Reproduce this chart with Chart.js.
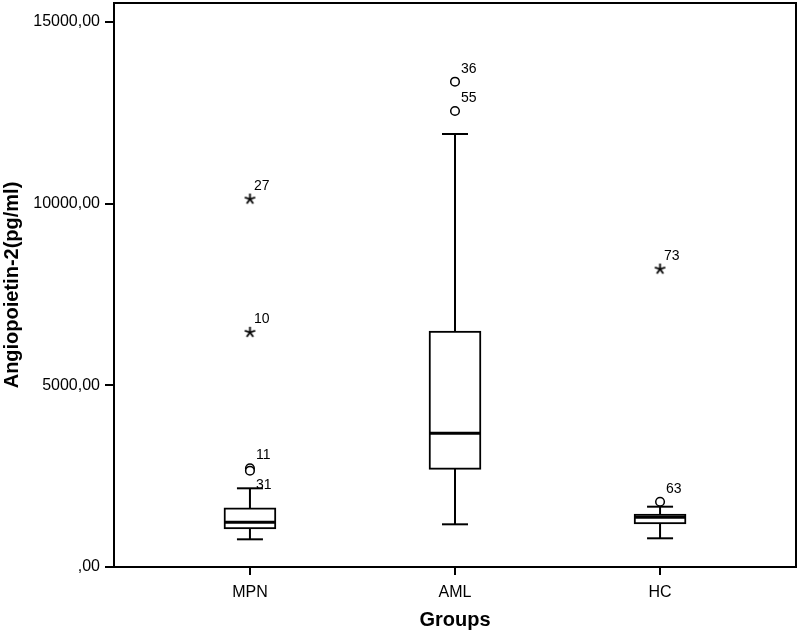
<!DOCTYPE html>
<html>
<head>
<meta charset="utf-8">
<script src="https://cdn.jsdelivr.net/npm/chart.js@4.4.1/dist/chart.umd.min.js"></script>
<style>
  html, body { margin: 0; padding: 0; background: #ffffff; }
  #c { display: block; }
</style>
</head>
<body>
<canvas id="c" width="799" height="632"></canvas>
<script>
// ---- data ----
const groups = ['MPN', 'AML', 'HC'];
const whiskerLow  = [762, 1175, 790];
const q1          = [1046, 2689, 1184];
const median      = [1230, 3680, 1371];
const q3          = [1632, 6496, 1459];
const whiskerHigh = [2166, 11918, 1660];
// mild outliers (circles): group index, value, case id
const circleGroup = [0, 0, 1, 1, 2];
const circleValue = [2717, 2651, 13358, 12551, 1797];
const circleId    = ['11', '31', '36', '55', '63'];
// extreme outliers (stars)
const starGroup = [0, 0, 2];
const starValue = [10129, 6460, 8202];
const starId    = ['27', '10', '73'];
// y-axis ticks
const yTicks = [0, 5000, 10000, 15000];

// label placement style (ids whose label sits below the point)
const labelBelow = ['31'];

const FONT = "'Liberation Sans', Arial, Helvetica, sans-serif";

// asterisk point style
function makeStar() {
  const c = document.createElement('canvas');
  c.width = 13; c.height = 13;
  const g = c.getContext('2d');
  g.strokeStyle = '#000';
  g.lineWidth = 1.8;
  g.lineCap = 'butt';
  const cx = 6.5, cy = 6.5, r = 5.5;
  for (let k = 0; k < 5; k++) {
    const a = -Math.PI / 2 + k * 2 * Math.PI / 5;
    g.beginPath();
    g.moveTo(cx, cy);
    g.lineTo(cx + r * Math.cos(a), cy + r * Math.sin(a));
    g.stroke();
  }
  return c;
}
const starImg = makeStar();

const whiskerData = [];
groups.forEach((g, i) => {
  whiskerData.push({x: i, y: whiskerLow[i]});
  whiskerData.push({x: i, y: whiskerHigh[i]});
  whiskerData.push({x: i, y: null});
});
const capData = [];
groups.forEach((g, i) => {
  capData.push({x: i, y: whiskerLow[i]});
  capData.push({x: i, y: whiskerHigh[i]});
});
const boxData = groups.map((g, i) => ({x: i, y: [q1[i], q3[i]]}));
const medianData = groups.map((g, i) => ({x: i, y: median[i]}));
const circleData = circleValue.map((v, k) => ({x: circleGroup[k], y: v}));
const starData = starValue.map((v, k) => ({x: starGroup[k], y: v}));

const framePlugin = {
  id: 'frame',
  afterDraw(chart) {
    const a = chart.chartArea, ctx = chart.ctx;
    ctx.save();
    ctx.strokeStyle = '#000';
    ctx.lineWidth = 2;
    ctx.strokeRect(a.left, a.top, a.right - a.left, a.bottom - a.top);
    ctx.restore();
  }
};

const labelPlugin = {
  id: 'caseLabels',
  afterDatasetsDraw(chart) {
    const ctx = chart.ctx;
    ctx.save();
    ctx.fillStyle = '#000';
    ctx.font = '14px ' + FONT;
    ctx.textAlign = 'left';
    ctx.textBaseline = 'middle';
    chart.data.datasets.forEach((ds, di) => {
      if (!ds.caseIds) return;
      const meta = chart.getDatasetMeta(di);
      meta.data.forEach((pt, k) => {
        const id = ds.caseIds[k];
        const dy = labelBelow.includes(id) ? 14 : -13;
        const dx = ds.isStar ? 4 : 6;
        ctx.fillText(id, pt.x + dx, pt.y + dy);
      });
    });
    ctx.restore();
  }
};

new Chart(document.getElementById('c'), {
  data: {
    datasets: [
      {
        type: 'line', data: whiskerData, borderColor: '#000', borderWidth: 2,
        pointRadius: 0, spanGaps: false, order: 5
      },
      {
        type: 'scatter', data: capData, pointStyle: 'line', pointRadius: 13,
        borderColor: '#000', pointBorderWidth: 2, borderWidth: 2, order: 4
      },
      {
        type: 'bar', data: boxData, backgroundColor: '#fff', borderColor: '#000',
        borderWidth: 2, borderSkipped: false, barThickness: 52, order: 3
      },
      {
        type: 'scatter', data: medianData, pointStyle: 'line', pointRadius: 25,
        borderColor: '#000', pointBorderWidth: 3, borderWidth: 3, order: 2
      },
      {
        type: 'scatter', data: circleData, pointStyle: 'circle', pointRadius: 4.3,
        backgroundColor: '#fff', borderColor: '#000', borderWidth: 1.5,
        caseIds: circleId, order: 1
      },
      {
        type: 'scatter', data: starData, pointStyle: starImg, pointRadius: 6,
        caseIds: starId, isStar: true, order: 0
      }
    ]
  },
  options: {
    responsive: false,
    animation: false,
    devicePixelRatio: 1,
    layout: { autoPadding: false, padding: { left: 0, right: 3, top: 3, bottom: 0 } },
    plugins: { legend: { display: false }, tooltip: { enabled: false } },
    scales: {
      x: {
        type: 'linear',
        min: -0.663, max: 2.663,
        offset: false,
        afterFit(s) { s.height = 65; s.paddingLeft = 0; s.paddingRight = 0; },
        afterBuildTicks(s) { s.ticks = groups.map((g, i) => ({value: i})); },
        ticks: {
          color: '#000', padding: 8, maxRotation: 0, autoSkip: false,
          font: { family: FONT, size: 16 },
          callback: (v) => groups[v] !== undefined ? groups[v] : ''
        },
        grid: { offset: false, drawOnChartArea: false, drawTicks: true, tickLength: 8, color: '#000', lineWidth: 2 },
        border: { display: true, color: '#000', width: 2 },
        title: {
          display: true, text: 'Groups', color: '#000',
          font: { family: FONT, size: 20, weight: 'bold' }, padding: 0
        }
      },
      y: {
        type: 'linear',
        min: 0, max: 15524,
        afterFit(s) { s.width = 114; s.paddingTop = 0; s.paddingBottom = 0; },
        afterBuildTicks(s) { s.ticks = yTicks.map(v => ({value: v})); },
        ticks: {
          color: '#000', padding: 5,
          font: { family: FONT, size: 16 },
          callback: (v) => (v === 0 ? '' : String(v)) + ',00'
        },
        grid: { drawOnChartArea: false, drawTicks: true, tickLength: 9, color: '#000', lineWidth: 2 },
        border: { display: true, color: '#000', width: 2 },
        title: {
          display: true, text: 'Angiopoietin-2(pg/ml)', color: '#000',
          font: { family: FONT, size: 20, weight: 'bold' }, padding: 0
        }
      }
    }
  },
  plugins: [framePlugin, labelPlugin]
});
</script>
</body>
</html>
